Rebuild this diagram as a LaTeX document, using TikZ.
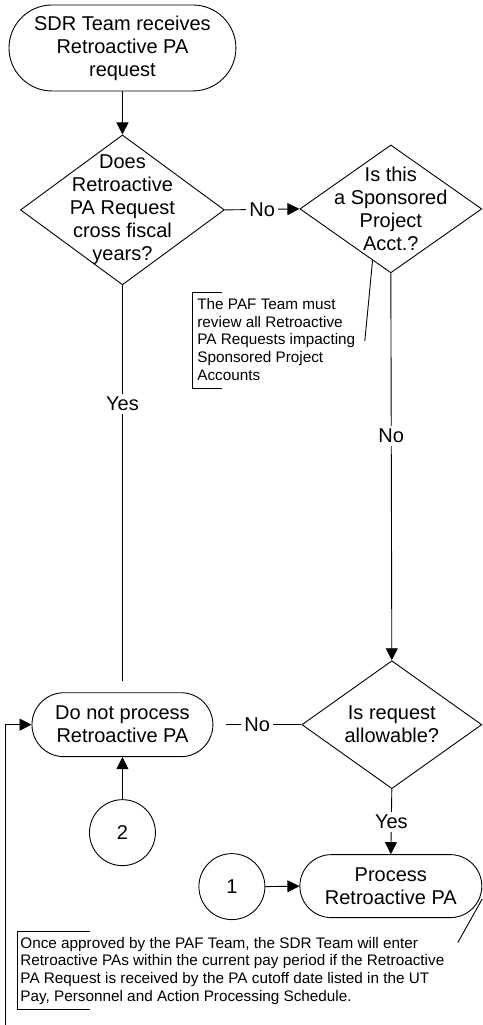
\documentclass[tikz,border=0pt]{standalone}
\usepackage{fontspec}
\setmainfont{Liberation Sans}
\usetikzlibrary{shapes.geometric,arrows.meta,calc}
\begin{document}
\begin{tikzpicture}[x=1pt,y=-1pt,
  line width=0.9pt,
  every node/.style={font=\fontsize{20}{23}\selectfont, inner sep=0pt},
  terminal/.style={draw, align=center},
  decision/.style={draw, shape=diamond},
  connector/.style={draw, circle, minimum size=66pt},
  flow/.style={-{Triangle[length=12pt,width=12pt]}},
  edgelabel/.style={fill=white, inner sep=3pt},
  note/.style={anchor=north west, align=left, font=\fontsize{15.3}{17.8}\selectfont}
]
% page frame
\fill[white] (0,0) rectangle (483,1025);

% terminals
\node[terminal, minimum width=227pt, minimum height=86pt, rounded corners=43pt]
  (start) at (122.5,48) {SDR Team receives\\Retroactive PA\\request};
\node[terminal, minimum width=181pt, minimum height=64pt, rounded corners=32pt]
  (stop) at (122.5,725) {Do not process\\Retroactive PA};
\node[terminal, minimum width=182pt, minimum height=63pt, rounded corners=31.5pt]
  (process) at (391,886.5) {Process\\Retroactive PA};

% decisions
\node[decision, minimum width=204pt, minimum height=150pt,
  label={[align=center]center:Does\\Retroactive\\PA Request\\cross fiscal\\years?}]
  (fiscal) at (122.5,210) {};
\node[decision, minimum width=182pt, minimum height=128pt,
  label={[align=center]center:Is this\\a Sponsored\\Project\\Acct.?}]
  (sponsored) at (391,209) {};
\node[decision, minimum width=180pt, minimum height=128pt,
  label={[align=center]center:Is request\\allowable?}]
  (allowable) at (392,725) {};

% off-page connectors
\node[connector] (c2) at (122.5,833) {2};
\node[connector] (c1) at (232,887) {1};

% flow lines
\draw[flow] (start.south) -- (fiscal.north);
\draw[flow] (fiscal.east) -- node[edgelabel, pos=0.5] {No} (sponsored.west);
\draw[flow] (sponsored.south) -- node[edgelabel, pos=0.42] {No} (allowable.north);
\draw (allowable.west) -- node[edgelabel, pos=0.59] {No} ([xshift=13pt]stop.east);
\draw (fiscal.south) -- node[edgelabel, pos=0.30] {Yes} ([yshift=11pt]stop.north);
\draw[flow] (allowable.south) -- node[edgelabel, pos=0.5] {Yes} (process.north);
\draw[flow] (c2.north) -- (stop.south);
\draw[flow] (c1.east) -- (process.west);
\coordinate (loopin) at (5,1025);
\draw[flow] (loopin) |- (stop.west);

% annotation for sponsored accounts
\draw (222,293) -- (193,293) -- (193,389) -- (222,389);
\node[note] (note1) at (197,298)
  {The PAF Team must\\review all Retroactive\\PA Requests impacting\\Sponsored Project\\Accounts};
\coordinate (note1lead) at (365,341);
\draw ($(sponsored.south)!0.2!(sponsored.west)$) -- (note1lead);

% annotation for processing
\draw (90,932) -- (17,932) -- (17,1010) -- (90,1010);
\node[note] (note2) at (20,937)
  {Once approved by the PAF Team, the SDR Team will enter\\Retroactive PAs within the current pay period if the Retroactive\\PA Request is received by the PA cutoff date listed in the UT\\Pay, Personnel and Action Processing Schedule.};
\coordinate (note2lead) at (458,943);
\draw (process.-8) -- (note2lead);
\end{tikzpicture}
\end{document}
